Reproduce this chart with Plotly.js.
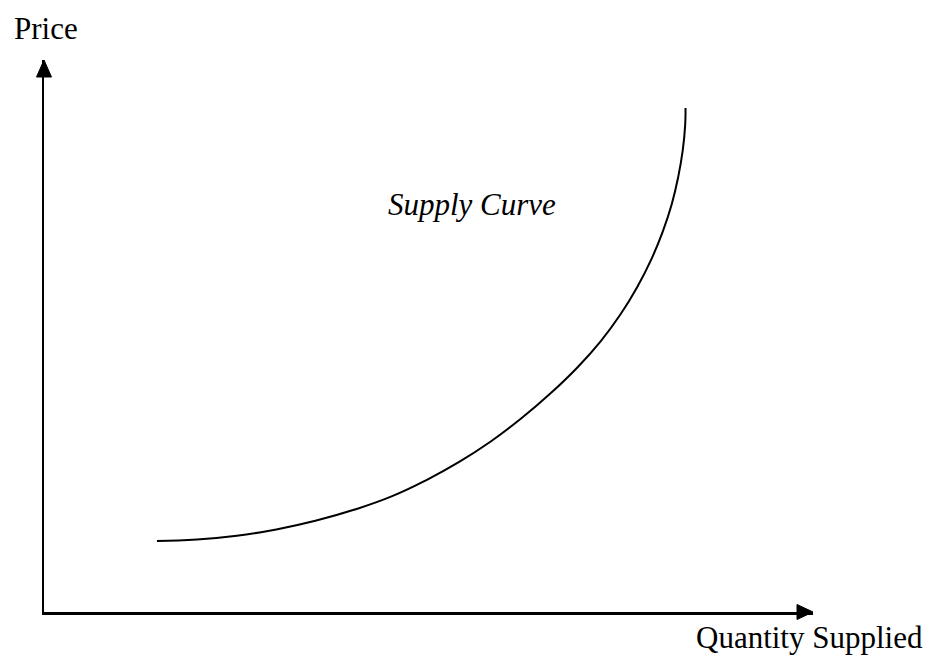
<!DOCTYPE html>
<html>
<head>
<meta charset="utf-8">
<script src="https://cdn.plot.ly/plotly-3.0.1.min.js"></script>
<style>html,body{margin:0;padding:0;background:#fff;}#chart{width:936px;height:655px;}</style>
</head>
<body>
<div id="chart"></div>
<script>
// Supply curve (quantity 0-100, price 0-100 on the axes)
var quantity = [14.69, 19.90, 25.07, 30.21, 35.29, 40.30, 45.20, 49.67, 53.99, 58.14, 62.08, 65.84, 69.39, 72.41, 74.95, 77.13, 78.96, 80.45, 81.63, 82.47, 83.06, 83.38, 83.42];
var price    = [12.86, 13.12, 13.80, 14.95, 16.52, 18.51, 20.94, 23.86, 27.19, 30.94, 35.09, 39.57, 44.35, 49.09, 53.89, 58.84, 63.84, 68.86, 73.86, 78.79, 83.61, 88.30, 91.30];

var xLabel = "Quantity Supplied";
var yLabel = "Price";
var curveLabel = "Supply Curve";

var serif = "Liberation Serif, Times New Roman, serif";

var trace = {
  x: quantity, y: price, type: "scatter", mode: "lines",
  line: {color: "#000", width: 2, shape: "spline", smoothing: 1.3, simplify: false},
  hoverinfo: "skip"
};

var layout = {
  width: 936, height: 655,
  margin: {l: 44, r: 123, t: 60, b: 43},
  paper_bgcolor: "#fff", plot_bgcolor: "#fff",
  showlegend: false,
  xaxis: {range: [0, 100], showline: true, linecolor: "#000", linewidth: 2.5,
          showgrid: false, zeroline: false, showticklabels: false, ticks: "", fixedrange: true},
  yaxis: {range: [0, 100], showline: true, linecolor: "#000", linewidth: 2.5,
          showgrid: false, zeroline: false, showticklabels: false, ticks: "", fixedrange: true},
  shapes: [
    {type: "path", xref: "paper", yref: "paper",
     path: "M 1 0 L 0.9792 0.01359 L 0.9792 -0.01359 Z",
     fillcolor: "#000", line: {color: "#000", width: 1}},
    {type: "path", xref: "paper", yref: "paper",
     path: "M 0 1 L 0.00975 0.9692 L -0.00975 0.9692 Z",
     fillcolor: "#000", line: {color: "#000", width: 1}}
  ],
  annotations: [
    {text: yLabel, xref: "paper", yref: "paper", x: 0.0026, y: 1.057,
     xanchor: "center", yanchor: "middle", showarrow: false,
     font: {family: serif, size: 31, color: "#000"}},
    {text: xLabel, xref: "paper", yref: "paper", x: 0.9948, y: -0.047,
     xanchor: "center", yanchor: "middle", showarrow: false,
     font: {family: serif, size: 31, color: "#000"}},
    {text: "<i>" + curveLabel + "</i>", xref: "paper", yref: "paper", x: 0.557, y: 0.739,
     xanchor: "center", yanchor: "middle", showarrow: false,
     font: {family: serif, size: 31, color: "#000"}}
  ]
};

Plotly.newPlot("chart", [trace], layout, {displayModeBar: false, staticPlot: true});
</script>
</body>
</html>
